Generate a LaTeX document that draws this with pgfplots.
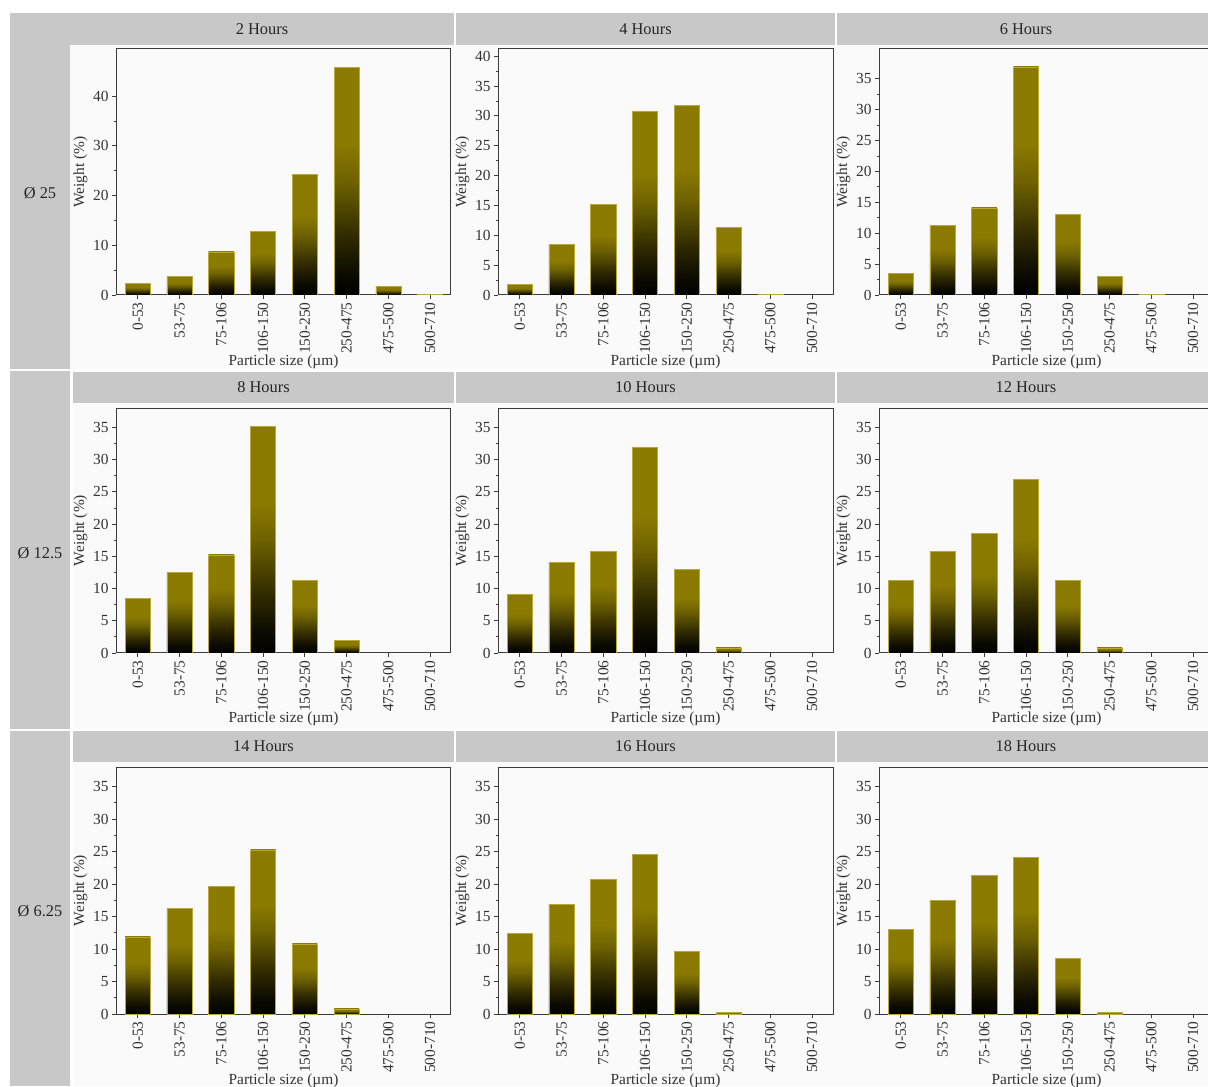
\documentclass[border=0pt]{standalone}
\usepackage{pgfplots}
\pgfplotsset{compat=1.18}
\usepackage{fontspec}
\setmainfont{Liberation Serif}
\definecolor{olv}{RGB}{138,122,0}
\definecolor{hdr}{RGB}{200,200,200}
\definecolor{pbg}{RGB}{250,250,250}
\definecolor{axc}{RGB}{60,60,60}
\definecolor{edg}{RGB}{185,168,60}
\pgfdeclareverticalshading{barshade}{100bp}{color(0bp)=(black); color(25bp)=(black); color(30bp)=(olv!10!black); color(38bp)=(olv!35!black); color(50bp)=(olv!80!black); color(58bp)=(olv); color(100bp)=(olv)}

\pgfplotsset{
 panel/.style={
  scale only axis, width=167.5pt, anchor=south west,
  ymin=0, xmin=-0.52, xmax=7.5,
  xtick={0,...,7},
  xticklabels={0-53,53-75,75-106,106-150,150-250,250-475,475-500,500-710},
  xticklabel style={rotate=90, anchor=east, inner sep=1.5pt},
  yticklabel style={inner sep=1.5pt},
  tick align=outside, xtick pos=bottom, ytick pos=left,
  minor y tick num=1,
  major tick length=2pt, minor tick length=1.2pt,
  axis line style={axc, line width=0.5pt},
  every tick/.style={axc, line width=0.4pt},
  tick label style={font=\fontsize{7.7}{9}\selectfont, text=black!80},
  /pgf/number format/assume math mode=true,
  ylabel={Weight (\%)}, xlabel={Particle size (µm)},
  every axis y label/.style={at={(axis description cs:-0.106,0.5)}, rotate=90, anchor=center, font=\fontsize{7.7}{9}\selectfont, text=black!80},
  every axis x label/.style={at={(axis description cs:0.5,-0.27)}, anchor=center, font=\fontsize{7.7}{9}\selectfont, text=black!80},
 },
 bars/.style={ybar, bar width=0.6, shading=barshade, draw=edg, line width=0.25pt},
}
\newcommand{\B}[2]{\addplot[bars] coordinates {(#1,#2)};}

\begin{document}
\begin{tikzpicture}
% backgrounds
\fill[hdr] (5pt,358.5pt) rectangle (35pt,536.5pt);
\fill[hdr] (5pt,178.5pt) rectangle (35pt,357.5pt);
\fill[hdr] (5pt,0pt) rectangle (35pt,177.5pt);
\fill[pbg] (35pt,358.5pt) rectangle (610pt,520.5pt);
\fill[pbg] (36.5pt,178.5pt) rectangle (610pt,341.5pt);
\fill[pbg] (36.5pt,0pt) rectangle (610pt,162pt);
% headers
\fill[hdr] (35pt,520.5pt) rectangle (227pt,536.5pt);
\fill[hdr] (228pt,520.5pt) rectangle (417.5pt,536.5pt);
\fill[hdr] (418.5pt,520.5pt) rectangle (610pt,536.5pt);
\fill[hdr] (36.5pt,341.5pt) rectangle (227pt,357pt);
\fill[hdr] (228pt,341.5pt) rectangle (417.5pt,357pt);
\fill[hdr] (418.5pt,341.5pt) rectangle (610pt,357pt);
\fill[hdr] (36.5pt,162pt) rectangle (227pt,177.5pt);
\fill[hdr] (228pt,162pt) rectangle (417.5pt,177.5pt);
\fill[hdr] (418.5pt,162pt) rectangle (610pt,177.5pt);
\begin{scope}[every node/.style={font=\fontsize{8.2}{10}\selectfont, text=black!85}]
\node at (131pt,528.5pt) {2 Hours};
\node at (322.75pt,528.5pt) {4 Hours};
\node at (513pt,528.5pt) {6 Hours};
\node at (131.75pt,349.25pt) {8 Hours};
\node at (322.75pt,349.25pt) {10 Hours};
\node at (513pt,349.25pt) {12 Hours};
\node at (131.75pt,169.75pt) {14 Hours};
\node at (322.75pt,169.75pt) {16 Hours};
\node at (513pt,169.75pt) {18 Hours};
\node at (20pt,446.5pt) {Ø 25};
\node at (20pt,266.5pt) {Ø 12.5};
\node at (20pt,87.5pt) {Ø 6.25};
\end{scope}

% Row 1
\begin{axis}[panel, at={(58pt,395.5pt)}, height=123pt, ymax=49.5, ytick={0,10,...,40}]
\B{0}{2.35}\B{1}{3.7}\B{2}{8.7}\B{3}{12.75}\B{4}{24.2}\B{5}{45.8}\B{6}{1.7}\B{7}{0.1}
\end{axis}
\begin{axis}[panel, at={(249pt,395.5pt)}, height=123pt, ymax=41.2, ytick={0,5,...,40}]
\B{0}{1.8}\B{1}{8.5}\B{2}{15.2}\B{3}{30.7}\B{4}{31.8}\B{5}{11.3}\B{6}{0.2}
\end{axis}
\begin{axis}[panel, at={(439.5pt,395.5pt)}, height=123pt, ymax=39.8, ytick={0,5,...,35}]
\B{0}{3.5}\B{1}{11.3}\B{2}{14.1}\B{3}{36.9}\B{4}{13.0}\B{5}{3.0}\B{6}{0.2}
\end{axis}
% Row 2
\begin{axis}[panel, at={(58pt,216.5pt)}, height=122.5pt, ymax=38, ytick={0,5,...,35}]
\B{0}{8.5}\B{1}{12.45}\B{2}{15.2}\B{3}{35.2}\B{4}{11.3}\B{5}{1.9}
\end{axis}
\begin{axis}[panel, at={(249pt,216.5pt)}, height=122.5pt, ymax=38, ytick={0,5,...,35}]
\B{0}{9.1}\B{1}{14.1}\B{2}{15.8}\B{3}{31.9}\B{4}{13.0}\B{5}{0.8}
\end{axis}
\begin{axis}[panel, at={(439.5pt,216.5pt)}, height=122.5pt, ymax=38, ytick={0,5,...,35}]
\B{0}{11.3}\B{1}{15.8}\B{2}{18.5}\B{3}{26.9}\B{4}{11.3}\B{5}{0.8}
\end{axis}
% Row 3
\begin{axis}[panel, at={(58pt,36pt)}, height=123.5pt, ymax=38, ytick={0,5,...,35}]
\B{0}{11.85}\B{1}{16.3}\B{2}{19.65}\B{3}{25.25}\B{4}{10.8}\B{5}{0.8}
\end{axis}
\begin{axis}[panel, at={(249pt,36pt)}, height=123.5pt, ymax=38, ytick={0,5,...,35}]
\B{0}{12.45}\B{1}{16.9}\B{2}{20.7}\B{3}{24.6}\B{4}{9.6}\B{5}{0.25}
\end{axis}
\begin{axis}[panel, at={(439.5pt,36pt)}, height=123.5pt, ymax=38, ytick={0,5,...,35}]
\B{0}{13.0}\B{1}{17.45}\B{2}{21.3}\B{3}{24.1}\B{4}{8.57}\B{5}{0.2}
\end{axis}

\pgfresetboundingbox
\path[use as bounding box] (0pt,0pt) rectangle (604pt,543pt);
\end{tikzpicture}
\end{document}
